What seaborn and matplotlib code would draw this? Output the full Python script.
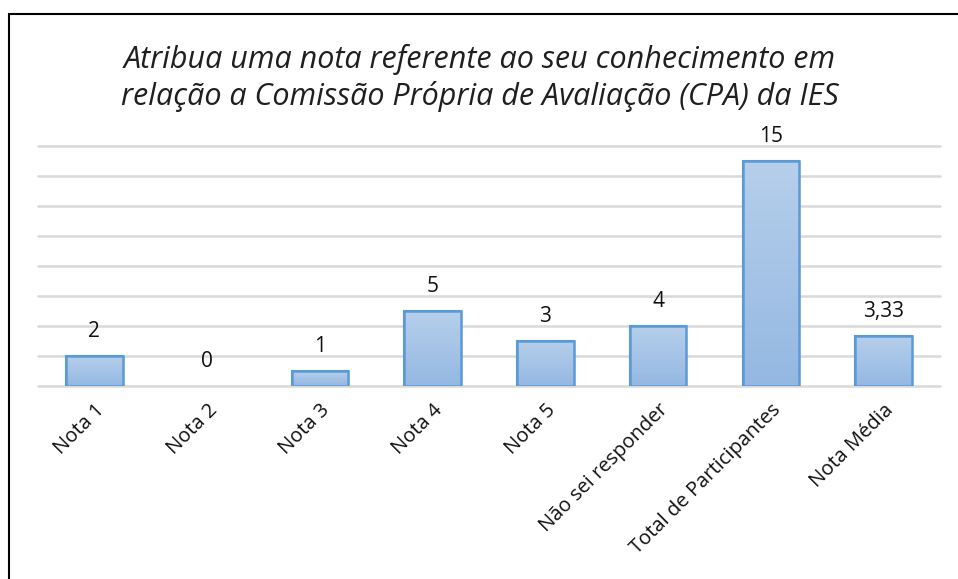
import matplotlib
matplotlib.use("Agg")
import matplotlib.pyplot as plt
import seaborn as sns
import numpy as np
import pandas as pd
from matplotlib.lines import Line2D

categories = ["Nota 1", "Nota 2", "Nota 3", "Nota 4", "Nota 5",
              "Não sei responder", "Total de Participantes", "Nota Média"]
values = [2, 0, 1, 5, 3, 4, 15, 3.33]
value_labels = ["2", "0", "1", "5", "3", "4", "15", "3,33"]
title = "Atribua uma nota referente ao seu conhecimento em\nrelação a Comissão Própria de Avaliação (CPA) da IES"

sns.set_theme(style="white")
plt.rcParams['font.family'] = ['Open Sans', 'DejaVu Sans']

df = pd.DataFrame({"cat": categories, "val": values})

fig = plt.figure(figsize=(9.58, 5.79), dpi=100)
ax = fig.add_axes([38/958, (579-386)/579, (940-38)/958, (386-146)/579])

sns.barplot(data=df, x="cat", y="val", ax=ax, width=0.5, color="#a5c3e6",
            edgecolor="#5b9bd5", linewidth=1.5, zorder=3)

ax.set_ylim(0, 16)
ax.set_xlim(-0.5, len(categories) - 0.5)
ax.set_yticks(np.arange(0, 17, 2))
ax.yaxis.grid(True, color="#d9d9d9", linewidth=1.8, zorder=0)
for gl in ax.get_ygridlines():
    gl.set_clip_on(False)
ax.set_axisbelow(True)
for s in ax.spines.values():
    s.set_visible(False)
ax.tick_params(axis="y", left=False, labelleft=False)
ax.tick_params(axis="x", bottom=False, pad=4)
ax.set_xlabel("")
ax.set_ylabel("")

# gradient fill on bars
grad = np.linspace(0, 1, 256).reshape(-1, 1)
cmap = matplotlib.colors.LinearSegmentedColormap.from_list("g", ["#94b8e2", "#b6cfeb"])
for p in list(ax.patches):
    h = p.get_height()
    if h <= 0:
        p.set_linewidth(0)
        p.set_visible(False)
        continue
    x0 = p.get_x(); w = p.get_width()
    im = ax.imshow(grad, extent=[x0, x0 + w, 0, h], origin="lower", aspect="auto",
                   cmap=cmap, zorder=3.5)
    im.set_clip_path(p)
    ax.add_patch(matplotlib.patches.Rectangle((x0, 0), w, h, fill=False,
                 edgecolor="#5b9bd5", linewidth=1.8, zorder=4))
ax.set_xlim(-0.5, len(categories) - 0.5)
ax.set_ylim(0, 16)

for i, (v, lab) in enumerate(zip(values, value_labels)):
    ax.annotate(lab, (i, v), xytext=(0, 10), textcoords="offset points",
                ha="center", va="bottom", fontsize=15, color="#111111")

ax.set_xticks(range(len(categories)))
ax.set_xticklabels(categories, rotation=45, ha="right", rotation_mode="anchor",
                   fontsize=14.5, color="#111111")

fig.text(480/958, 1 - 78/579, title, ha="center", va="center", fontsize=22,
         style="italic", color="#1f1f1f", linespacing=1.28)

# outer frame (top and left edges visible)
fig.add_artist(Line2D([9/958, 1.0], [1 - 14/579, 1 - 14/579], color="black", lw=1.5,
                      transform=fig.transFigure))
fig.add_artist(Line2D([9/958, 9/958], [0, 1 - 14/579], color="black", lw=1.5,
                      transform=fig.transFigure))

fig.savefig("out.png", dpi=100)
